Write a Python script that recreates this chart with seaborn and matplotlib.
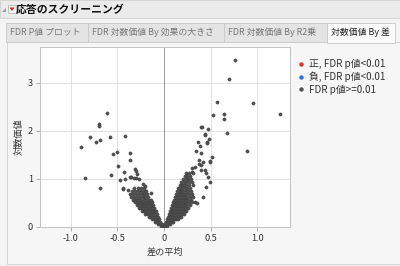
import matplotlib
matplotlib.use("Agg")
import matplotlib.pyplot as plt
import seaborn as sns
import pandas as pd
from matplotlib.lines import Line2D
from matplotlib.patches import Rectangle, Polygon

sns.set_style("white")
plt.rcParams['font.family'] = ['Noto Sans CJK JP', 'DejaVu Sans']

# ---------------- data ----------------
title = "応答のスクリーニング"
tabs = ["FDR P値 プロット", "FDR 対数価値 By 効果の大きさ", "FDR 対数価値 By R2乗", "対数価値 By 差"]
x_label = "差の平均"
y_label = "対数価値"
legend_labels = ["正, FDR p値<0.01", "負, FDR p値<0.01", "FDR p値>=0.01"]
legend_colors = ["#e8322a", "#2f6fe0", "#555555"]
x_ticks = [-1.0, -0.5, 0.0, 0.5, 1.0]
x_tick_labels = ["-1.0", "-0.5", "0", "0.5", "1.0"]
y_ticks = [0, 1, 2, 3]

# scattered (outlying) points
sparse_x = [-0.61, -0.70, -0.70, -0.79, -0.73, -0.69, -0.58, -0.42, -0.89, -0.55,
            -0.50, -0.36, -0.37, -0.49, -0.43, -0.57, -0.85, -0.47, -0.42, -0.36,
            -0.31, -0.30, -0.29, -0.27, -0.32, -0.69, -0.44, -0.385, -0.23, -0.20,
            -0.14, -0.35, -0.30, -0.44,
            0.757, 0.696, 0.57, 0.95, 1.24, 0.52, 0.64, 0.64, 0.40, 0.47,
            0.436, 0.67, 0.89, 0.41, 0.48, 0.44, 0.46, 0.51, 0.49, 0.36,
            0.39, 0.457, 0.34, 0.40, 0.37, 0.42, 0.49, 0.37, 0.40, 0.30,
            0.33, 0.30, 0.40, 0.44, 0.45, 0.47, 0.49, 0.45, 0.33, 0.35, 0.42]
sparse_y = [2.36, 2.15, 2.10, 1.875, 1.76, 1.81, 1.875, 1.90, 1.66, 1.51,
            1.56, 1.54, 1.39, 1.26, 1.14, 1.09, 1.01, 0.98, 0.99, 1.04,
            1.20, 1.17, 1.11, 1.00, 1.01, 0.80, 0.785, 0.76, 0.89, 0.86,
            0.70, 1.04, 1.01, 0.80,
            3.47, 3.07, 2.60, 2.58, 2.35, 2.32, 2.34, 2.25, 2.08, 2.04,
            1.925, 1.95, 1.58, 2.07, 1.83, 1.92, 1.76, 1.45, 1.37, 1.76,
            1.68, 1.75, 1.58, 1.54, 1.40, 1.36, 1.35, 1.31, 1.29, 1.22,
            1.24, 1.15, 1.18, 1.18, 1.125, 1.04, 0.94, 0.83, 0.52, 0.49, 0.625]

# dense cloud, negative side (read row by row)
neg_x = [-0.03, -0.015,
         -0.065, -0.045, -0.025,
         -0.10, -0.08, -0.06, -0.04,
         -0.13, -0.11, -0.09, -0.07, -0.05,
         -0.16, -0.14, -0.12, -0.10, -0.08, -0.06,
         -0.20, -0.18, -0.16, -0.14, -0.12, -0.10, -0.08,
         -0.24, -0.22, -0.20, -0.18, -0.16, -0.14, -0.12, -0.10, -0.085,
         -0.27, -0.25, -0.23, -0.21, -0.19, -0.17, -0.15, -0.13, -0.11,
         -0.29, -0.27, -0.25, -0.23, -0.21, -0.19, -0.17, -0.15, -0.13, -0.115,
         -0.31, -0.29, -0.27, -0.25, -0.23, -0.21, -0.19, -0.17, -0.15, -0.13,
         -0.33, -0.31, -0.29, -0.27, -0.25, -0.22, -0.19, -0.16, -0.14,
         -0.35, -0.32, -0.29, -0.26, -0.23, -0.20, -0.17,
         -0.36, -0.33, -0.30, -0.27, -0.24, -0.21, -0.18,
         -0.34, -0.31, -0.28, -0.25, -0.22, -0.19,
         -0.32, -0.28, -0.25, -0.22]
neg_y = [0.03, 0.03,
         0.07, 0.07, 0.07,
         0.11, 0.11, 0.11, 0.11,
         0.16, 0.16, 0.16, 0.16, 0.16,
         0.21, 0.21, 0.21, 0.21, 0.21, 0.21,
         0.27, 0.27, 0.27, 0.27, 0.27, 0.27, 0.27,
         0.33, 0.33, 0.33, 0.33, 0.33, 0.33, 0.33, 0.33, 0.33,
         0.39, 0.39, 0.39, 0.39, 0.39, 0.39, 0.39, 0.39, 0.39,
         0.45, 0.45, 0.45, 0.45, 0.45, 0.45, 0.45, 0.45, 0.45, 0.45,
         0.51, 0.51, 0.51, 0.51, 0.51, 0.51, 0.51, 0.51, 0.51, 0.51,
         0.57, 0.57, 0.57, 0.57, 0.57, 0.57, 0.57, 0.57, 0.57,
         0.63, 0.63, 0.63, 0.63, 0.63, 0.63, 0.63,
         0.69, 0.69, 0.69, 0.69, 0.69, 0.69, 0.69,
         0.75, 0.75, 0.75, 0.75, 0.75, 0.75,
         0.81, 0.81, 0.81, 0.81]

# dense cloud, positive side (read row by row)
pos_x = [0.0, 0.01, 0.03,
         0.015, 0.035, 0.06,
         0.02, 0.04, 0.06, 0.08, 0.10,
         0.03, 0.05, 0.07, 0.09, 0.11, 0.13, 0.15,
         0.04, 0.06, 0.08, 0.10, 0.12, 0.14, 0.16, 0.18,
         0.05, 0.07, 0.09, 0.11, 0.13, 0.15, 0.17, 0.19, 0.21,
         0.06, 0.08, 0.10, 0.12, 0.14, 0.16, 0.18, 0.20, 0.22, 0.24,
         0.075, 0.095, 0.115, 0.135, 0.155, 0.175, 0.195, 0.215, 0.235, 0.26,
         0.085, 0.105, 0.125, 0.145, 0.165, 0.185, 0.205, 0.225, 0.25, 0.28,
         0.10, 0.12, 0.14, 0.16, 0.18, 0.20, 0.22, 0.24, 0.27, 0.30,
         0.11, 0.13, 0.15, 0.17, 0.19, 0.21, 0.23, 0.26, 0.29,
         0.12, 0.14, 0.16, 0.18, 0.20, 0.22, 0.25, 0.28, 0.31,
         0.13, 0.15, 0.17, 0.19, 0.21, 0.24, 0.27, 0.30,
         0.14, 0.16, 0.18, 0.20, 0.23, 0.26, 0.29,
         0.15, 0.17, 0.19, 0.22, 0.25, 0.28,
         0.17, 0.19, 0.21, 0.24, 0.27, 0.31,
         0.18, 0.21, 0.24, 0.27, 0.30,
         0.20, 0.23, 0.26, 0.29,
         0.22, 0.25, 0.28,
         0.24, 0.27, 0.31]
pos_y = [0.0, 0.03, 0.03,
         0.07, 0.07, 0.07,
         0.11, 0.11, 0.11, 0.11, 0.11,
         0.16, 0.16, 0.16, 0.16, 0.16, 0.16, 0.16,
         0.21, 0.21, 0.21, 0.21, 0.21, 0.21, 0.21, 0.21,
         0.27, 0.27, 0.27, 0.27, 0.27, 0.27, 0.27, 0.27, 0.27,
         0.33, 0.33, 0.33, 0.33, 0.33, 0.33, 0.33, 0.33, 0.33, 0.33,
         0.39, 0.39, 0.39, 0.39, 0.39, 0.39, 0.39, 0.39, 0.39, 0.39,
         0.45, 0.45, 0.45, 0.45, 0.45, 0.45, 0.45, 0.45, 0.45, 0.45,
         0.51, 0.51, 0.51, 0.51, 0.51, 0.51, 0.51, 0.51, 0.51, 0.51,
         0.57, 0.57, 0.57, 0.57, 0.57, 0.57, 0.57, 0.57, 0.57,
         0.63, 0.63, 0.63, 0.63, 0.63, 0.63, 0.63, 0.63, 0.63,
         0.69, 0.69, 0.69, 0.69, 0.69, 0.69, 0.69, 0.69,
         0.75, 0.75, 0.75, 0.75, 0.75, 0.75, 0.75,
         0.81, 0.81, 0.81, 0.81, 0.81, 0.81,
         0.87, 0.87, 0.87, 0.87, 0.87, 0.87,
         0.93, 0.93, 0.93, 0.93, 0.93,
         0.99, 0.99, 0.99, 0.99,
         1.05, 1.05, 1.05,
         1.12, 1.12, 1.12]

df = pd.DataFrame({"diff": sparse_x + neg_x + pos_x,
                   "logworth": sparse_y + neg_y + pos_y})

# ---------------- figure ----------------
W, H = 400, 266
fig = plt.figure(figsize=(4.0, 2.66), dpi=100)
fig.patch.set_facecolor("#f4f4f4")

def px(x, y, w, h):
    return (x / W, 1 - (y + h) / H, w / W, h / H)

def box(x, y, w, h, fc, ec, lw=0.6):
    bx, by, bw, bh = px(x, y, w, h)
    fig.add_artist(Rectangle((bx, by), bw, bh, transform=fig.transFigure,
                             facecolor=fc, edgecolor=ec, lw=lw, zorder=-10))

# title bar
box(0, 0, 400, 18, "#ebebeb", "#d0d0d0")
fig.add_artist(Polygon([(2 / W, 1 - 12 / H), (6 / W, 1 - 12 / H), (6 / W, 1 - 8 / H)],
                       closed=True, transform=fig.transFigure, facecolor="#9a9a9a",
                       edgecolor="none", zorder=-5))
box(8, 5, 8, 8, "#f2f2f2", "#b0b0b0", 0.5)
fig.add_artist(Polygon([(9.5 / W, 1 - 7.5 / H), (14.5 / W, 1 - 7.5 / H), (12 / W, 1 - 11 / H)],
                       closed=True, transform=fig.transFigure, facecolor="#d42020",
                       edgecolor="none", zorder=-5))
fig.text(16 / W, 1 - 9.5 / H, title, fontsize=7.8, fontweight="bold", color="#111111",
         ha="left", va="center")

# inner panel
box(7, 42, 400, 222, "#f6f6f6", "#cfcfcf")

# tabs
tab_edges = [(6, 88), (88, 224), (224, 327), (327, 395)]
for i, (t, (x0, x1)) in enumerate(zip(tabs, tab_edges)):
    active = (i == len(tabs) - 1)
    box(x0, 23, x1 - x0, 19 if not active else 20,
        "#fbfbfb" if active else "#e4e4e4", "#c8c8c8")
    fig.text((x0 + 4) / W, 1 - 32.5 / H, t, fontsize=6.4,
             color="#222222" if active else "#777777", ha="left", va="center")

# plot axes
ax = fig.add_axes(px(40, 47, 250, 180))
ax.set_facecolor("white")
sns.scatterplot(data=df, x="diff", y="logworth", ax=ax, color="#505050",
                s=5.5, edgecolor="#3c3c3c", linewidth=0.3, legend=False, zorder=3)
ax.set_xlim(-1.33, 1.35)
ax.set_ylim(0, 3.74)
ax.set_xticks(x_ticks)
ax.set_xticklabels(x_tick_labels)
ax.set_yticks(y_ticks)
ax.grid(True, color="#e2e2e2", lw=0.7, zorder=0)
ax.axvline(0, color="#9a9a9a", lw=0.7, zorder=1)
for s in ax.spines.values():
    s.set_color("#c4c4c4")
    s.set_linewidth(0.7)
ax.tick_params(axis="both", which="major", length=3, width=0.6, color="#a0a0a0",
               labelsize=6.6, labelcolor="#333333", pad=2, direction="out",
               bottom=True, left=True)
ax.set_xlabel(x_label, fontsize=6.6, color="#333333", labelpad=3)
ax.set_ylabel(y_label, fontsize=6.6, color="#333333", labelpad=3)

# legend
handles = [Line2D([0], [0], marker="o", linestyle="none", markersize=2.2,
                  markerfacecolor=c, markeredgecolor=c) for c in legend_colors]
fig.legend(handles, legend_labels, loc="upper left", bbox_to_anchor=(298 / W, 1 - 59 / H),
           frameon=False, fontsize=7.1, handlelength=0.6, handletextpad=0.5,
           labelspacing=0.25, borderpad=0, borderaxespad=0, labelcolor="#333333")

fig.savefig("out.png", dpi=100, facecolor=fig.get_facecolor())
